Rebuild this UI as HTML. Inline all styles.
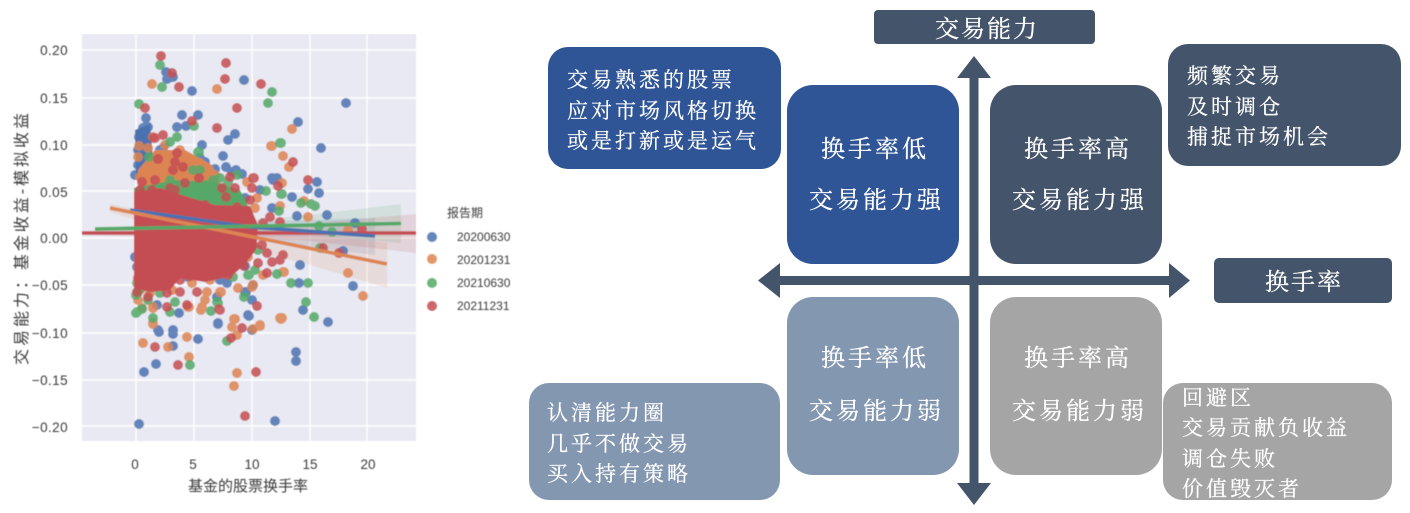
<!DOCTYPE html>
<html lang="zh">
<head>
<meta charset="utf-8">
<title>交易能力</title>
<style>
html,body{margin:0;padding:0;background:#fff}
svg{display:block}
.t{font-family:"Liberation Sans","WenQuanYi Zen Hei","Noto Sans CJK SC",sans-serif;fill:#3a3a3a}
.s{font-family:"Liberation Serif","Noto Serif CJK SC",serif;fill:#fff;stroke:#fff;stroke-width:.25}
.q{font-size:24px;letter-spacing:3px}
.b{font-size:21px;letter-spacing:3px}
.p{fill:none;stroke-width:10;stroke-linecap:round;opacity:.85}
</style>
</head>
<body>
<svg width="1410" height="513" viewBox="0 0 1410 513" xmlns="http://www.w3.org/2000/svg">
<defs>
<filter id="soft" x="0" y="0" width="100%" height="100%"><feGaussianBlur stdDeviation="0.5"/></filter>
<clipPath id="plot"><rect x="82" y="34" width="334" height="407"/></clipPath>
</defs>

<!-- chart -->
<g filter="url(#soft)">
<rect x="82" y="34" width="334" height="407" fill="#e8e9f2"/>
<g stroke="#fff" stroke-width="1.4">
<path d="M82 50H416M82 98H416M82 145H416M82 191H416M82 238H416M82 285H416M82 333H416M82 380H416M82 426H416"/>
<path d="M136 34V441M194 34V441M252 34V441M310 34V441M367 34V441"/>
</g>
<g clip-path="url(#plot)">
<polygon points="136,225 250,222 375,218 375,255 250,240 136,240" fill="#4c72b0" opacity=".15"/>
<polygon points="110,204 200,222 300,232 387,243 387,288 300,262 200,240 110,212" fill="#dd8452" opacity=".15"/>
<polygon points="95,227 200,224 300,216 401,204 401,243 300,234 200,232 95,231" fill="#55a868" opacity=".15"/>
<polygon points="82,231 200,229 300,224 416,214 416,253 300,240 200,238 82,235" fill="#c44e52" opacity=".15"/>

<!-- blue -->
<polygon points="135,130 150,124 154,170 136,180" fill="#4c72b0"/>
<path class="p" stroke="#4c72b0" d="M166 72h0M167 79h0M173 77h0M192 91h0M244 80h0M182 115h0M198 115h0M186 126h0M177 127h0M146 118h0M145 127h0M143 128h0M148 127h0M139 137h0M202 145h0M228 140h0M235 134h0M223 156h0M215 169h0M226 167h0M242 174h0M272 178h0M277 178h0M298 122h0M346 103h0M321 148h0M273 180h0M317 182h0M308 189h0M319 193h0M292 197h0M327 215h0M297 216h0M300 265h0M299 283h0M353 286h0M303 310h0M328 322h0M355 223h0M343 251h0M144 372h0M156 364h0M139 424h0M275 421h0M173 334h0M173 346h0M159 332h0M198 339h0M179 313h0M218 324h0M249 316h0M252 330h0M246 292h0M253 285h0M296 352h0M296 361h0M140 137h0M135 175h0M143 160h0M160 150h0M163 148h0M187 157h0M245 198h0M272 208h0M245 266h0M227 283h0M220 280h0M188 277h0M135 257h0M137 267h0M157 305h0M217 297h0M245 292h0M252 300h0M248 315h0M218 323h0M158 330h0M173 330h0M165 155h0M175 155h0M200 158h0M210 172h0M236 170h0M260 190h0M138 150h0M138 165h0M176 162h0M205 162h0M232 172h0"/>

<!-- orange -->
<polygon points="138,170 155,150 185,150 212,165 225,195 138,200" fill="#dd8452"/>
<path class="p" stroke="#dd8452" d="M152 84h0M217 89h0M271 146h0M139 146h0M138 157h0M292 129h0M272 146h0M283 156h0M289 167h0M282 183h0M304 201h0M280 206h0M308 217h0M348 273h0M363 296h0M281 319h0M284 272h0M348 230h0M143 343h0M168 347h0M187 337h0M189 357h0M237 373h0M234 386h0M234 319h0M232 327h0M237 335h0M260 326h0M253 329h0M153 324h0M202 307h0M201 310h0M189 307h0M207 292h0M221 292h0M238 288h0M252 287h0M280 318h0M142 308h0M153 307h0M153 137h0M140 177h0M150 173h0M160 177h0M180 150h0M190 162h0M200 163h0M187 180h0M247 182h0M257 198h0M255 208h0M243 247h0M248 257h0M283 272h0M263 275h0M253 285h0M220 292h0M192 283h0M150 293h0M140 290h0M153 308h0M153 323h0M188 307h0M202 308h0M232 327h0M235 319h0M260 325h0M282 318h0M210 280h0M215 175h0M148 148h0M165 145h0M172 290h0M205 300h0M138 300h0"/>

<!-- green -->
<polygon points="134,188 175,180 215,182 240,190 250,210 136,298" fill="#55a868"/>
<rect x="134" y="188" width="8" height="108" fill="#55a868"/>
<path class="p" stroke="#55a868" d="M160 65h0M162 87h0M139 104h0M272 92h0M268 103h0M194 126h0M199 152h0M266 191h0M280 143h0M177 137h0M170 142h0M149 157h0M281 143h0M282 194h0M301 203h0M311 204h0M315 206h0M279 211h0M291 283h0M308 283h0M306 302h0M314 317h0M277 274h0M320 248h0M319 226h0M332 232h0M136 313h0M137 312h0M142 309h0M153 318h0M170 312h0M211 311h0M190 365h0M227 341h0M244 297h0M249 275h0M175 302h0M218 303h0M198 152h0M193 170h0M200 170h0M170 180h0M200 202h0M198 188h0M213 180h0M220 178h0M237 175h0M212 188h0M281 194h0M248 275h0M255 270h0M258 250h0M238 243h0M233 277h0M217 260h0M137 283h0M160 293h0M217 302h0M205 185h0M228 182h0M136 295h0M148 300h0"/>

<!-- red -->
<polygon points="134,192 160,188 185,196 215,205 250,206 258,225 256,250 245,264 232,276 205,282 180,278 170,290 150,292 134,288" fill="#c44e52"/>
<path class="p" stroke="#c44e52" d="M161 56h0M172 73h0M179 87h0M226 63h0M225 79h0M261 84h0M237 108h0M145 108h0M192 121h0M217 128h0M154 138h0M163 135h0M254 178h0M293 162h0M308 180h0M278 186h0M339 253h0M323 248h0M362 229h0M155 347h0M178 365h0M256 372h0M245 416h0M231 338h0M242 328h0M257 306h0M219 309h0M187 305h0M167 307h0M137 292h0M148 297h0M167 293h0M155 138h0M158 159h0M177 153h0M175 162h0M173 170h0M183 167h0M185 183h0M199 178h0M142 182h0M155 180h0M170 188h0M188 203h0M197 210h0M230 177h0M222 188h0M235 188h0M226 197h0M253 178h0M252 188h0M250 200h0M237 207h0M217 212h0M270 217h0M263 223h0M267 253h0M280 260h0M283 255h0M253 245h0M267 273h0M258 263h0M235 257h0M228 275h0M213 272h0M200 273h0M180 280h0M160 282h0M138 278h0M180 292h0M197 292h0M220 310h0M280 222h0M272 262h0M262 245h0M152 190h0M140 190h0M175 190h0M205 205h0M148 285h0M190 276h0M244 266h0"/>
</g>
<!-- regression lines -->
<g fill="none" stroke-width="3.6" clip-path="url(#plot)">
<path d="M82 233H416" stroke="#c44e52"/>
<path d="M130 210L250 227L375 236" stroke="#4c72b0"/>
<path d="M110 208L387 264" stroke="#dd8452"/>
<path d="M95 229L401 223.500" stroke="#55a868"/>
</g>
<g class="t" font-size="13.500" text-anchor="end" letter-spacing=".4">
<text x="68" y="55">0.20</text><text x="68" y="103">0.15</text><text x="68" y="150">0.10</text><text x="68" y="197">0.05</text><text x="68" y="243">0.00</text>
<text x="68" y="290">−0.05</text><text x="68" y="338">−0.10</text><text x="68" y="385">−0.15</text><text x="68" y="432">−0.20</text>
</g>
<g class="t" font-size="13.500" text-anchor="middle">
<text x="135" y="469">0</text><text x="193" y="469">5</text><text x="252" y="469">10</text><text x="310" y="469">15</text><text x="368" y="469">20</text>
</g>
<text class="t" font-size="15" x="248" y="491" text-anchor="middle">基金的股票换手率</text>
<text class="t" font-size="16" transform="translate(27 239) rotate(-90)" text-anchor="middle" textLength="252">交易能力：基金收益-模拟收益</text>
<text class="t" font-size="12" x="465" y="217" text-anchor="middle">报告期</text>
<g opacity=".85"><circle cx="432" cy="237" r="5" fill="#4c72b0"/><circle cx="432" cy="259" r="5" fill="#dd8452"/><circle cx="432" cy="283" r="5" fill="#55a868"/><circle cx="432" cy="306" r="5" fill="#c44e52"/></g>
<g class="t" font-size="12"><text x="457" y="241">20200630</text><text x="457" y="264">20201231</text><text x="457" y="287">20210630</text><text x="457" y="310">20211231</text></g>
</g>

<!-- matrix -->
<rect x="874" y="10" width="221" height="34" rx="4" fill="#44546a"/>
<rect x="1214" y="258" width="178" height="45" rx="5" fill="#44546a"/>
<rect x="548" y="47" width="233" height="122" rx="20" fill="#2f5597"/>
<rect x="1168" y="44" width="233" height="122" rx="20" fill="#44546a"/>
<rect x="529" y="383" width="251" height="117" rx="20" fill="#8497b0"/>
<rect x="1163" y="383" width="229" height="117" rx="20" fill="#a5a5a5"/>
<rect x="787" y="85" width="172" height="179" rx="26" fill="#2f5597"/>
<rect x="990" y="85" width="172" height="179" rx="26" fill="#44546a"/>
<rect x="787" y="297" width="172" height="178" rx="26" fill="#8497b0"/>
<rect x="990" y="297" width="172" height="178" rx="26" fill="#a5a5a5"/>
<g fill="#44546a">
<polygon points="974,56 991,78 978.500,78 978.500,483 991,483 974,505 957,483 969.500,483 969.500,78 957,78"/>
<polygon points="758,280.500 780,263 780,276 1169,276 1169,263 1190,280.500 1169,298 1169,285 780,285 780,298"/>
</g>

<g class="s">
<text class="q" x="935" y="37" style="letter-spacing:2px">交易能力</text>
<text class="q" x="1265" y="290" style="letter-spacing:2px">换手率</text>

<text class="q" x="821" y="157">换手率低</text><text class="q" x="809" y="208">交易能力强</text>
<text class="q" x="1024" y="157">换手率高</text><text class="q" x="1012" y="208">交易能力强</text>
<text class="q" x="821" y="366">换手率低</text><text class="q" x="809" y="419">交易能力弱</text>
<text class="q" x="1024" y="366">换手率高</text><text class="q" x="1012" y="419">交易能力弱</text>

<text class="b" x="567" y="87">交易熟悉的股票</text><text class="b" x="567" y="118">应对市场风格切换</text><text class="b" x="567" y="148">或是打新或是运气</text>
<text class="b" x="1187" y="83">频繁交易</text><text class="b" x="1187" y="114">及时调仓</text><text class="b" x="1187" y="144">捕捉市场机会</text>
<text class="b" x="547" y="420">认清能力圈</text><text class="b" x="547" y="451">几乎不做交易</text><text class="b" x="547" y="481">买入持有策略</text>
<text class="b" x="1182" y="405">回避区</text><text class="b" x="1182" y="435">交易贡献负收益</text><text class="b" x="1182" y="466">调仓失败</text><text class="b" x="1182" y="496">价值毁灭者</text>
</g>
</svg>
</body>
</html>
